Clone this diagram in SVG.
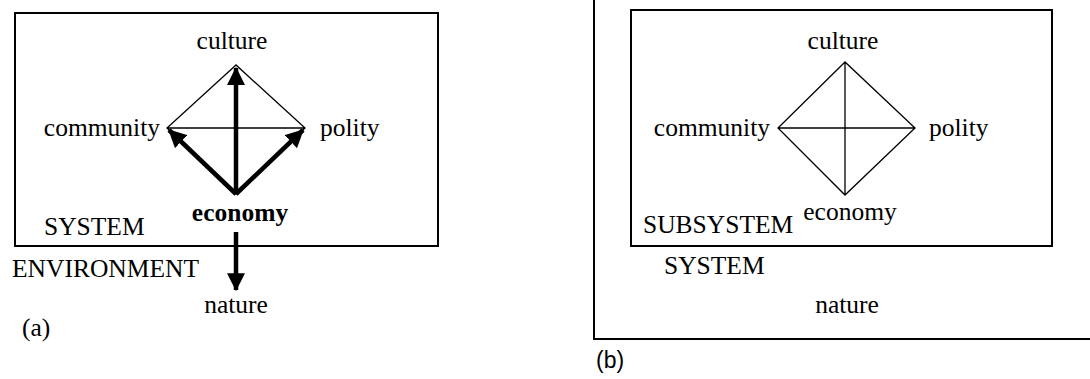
<svg xmlns="http://www.w3.org/2000/svg" width="1090" height="379" viewBox="0 0 1090 379">
<style>
  .t { font-family: "Liberation Serif", "Times New Roman", serif; font-size: 25.5px; fill: #000; }
  .b { font-weight: bold; }
  .m { text-anchor: middle; }
  .e { text-anchor: end; }
  .s { font-family: "Liberation Sans", Arial, sans-serif; font-size: 23px; fill: #000; }
  .box { fill: none; stroke: #000; stroke-width: 2; }
  .thin { fill: none; stroke: #000; stroke-width: 1.3; }
  .thick { fill: none; stroke: #000; stroke-width: 4.5; }
</style>
<defs>
  <marker id="ah" markerUnits="userSpaceOnUse" markerWidth="18" markerHeight="18" viewBox="0 0 16 16" refX="15" refY="8" orient="auto">
    <path d="M0,0 L16,8 L0,16 Z" fill="#000"/>
  </marker>
</defs>
<rect width="1090" height="379" fill="#fff"/>

<!-- Panel (a) -->
<g id="system-a">
  <rect class="box" x="15" y="13" width="423" height="233"/>
  <text class="t" x="44" y="235">SYSTEM</text>
</g>
<g id="environment-a">
  <text class="t" x="12" y="277">ENVIRONMENT</text>
</g>
<g id="diamond-a">
  <path class="thin" d="M236,65 L167,128 L236,194 L305,128 Z M167,128 H305"/>
</g>
<g id="culture-a"><text class="t m" x="232" y="49">culture</text></g>
<g id="community-a"><text class="t e" x="160" y="136">community</text></g>
<g id="polity-a"><text class="t" x="320" y="136">polity</text></g>
<g id="economy-a"><text class="t b m" x="240" y="221">economy</text></g>
<g id="nature-a"><text class="t m" x="236" y="313">nature</text></g>
<g id="label-a"><text class="t" x="22" y="336">(a)</text></g>
<g id="connectors-a">
  <line class="thick" x1="236" y1="194" x2="236" y2="68" marker-end="url(#ah)"/>
  <line class="thick" x1="236" y1="194" x2="169" y2="130" marker-end="url(#ah)"/>
  <line class="thick" x1="236" y1="194" x2="303" y2="130" marker-end="url(#ah)"/>
  <line class="thick" x1="236" y1="232" x2="236" y2="290" marker-end="url(#ah)"/>
</g>

<!-- Panel (b) -->
<g id="system-b">
  <path class="box" d="M594,0 V339 H1090"/>
  <text class="t" x="664" y="274">SYSTEM</text>
</g>
<g id="subsystem-b">
  <rect class="box" x="631" y="10" width="421" height="236"/>
  <text class="t" x="643" y="233">SUBSYSTEM</text>
</g>
<g id="diamond-b">
  <path class="thin" d="M845,62 L778,128 L845,195 L915,128 Z M778,128 H915 M845,62 V195"/>
</g>
<g id="culture-b"><text class="t m" x="843" y="49">culture</text></g>
<g id="community-b"><text class="t e" x="770" y="136">community</text></g>
<g id="polity-b"><text class="t" x="929" y="136">polity</text></g>
<g id="economy-b"><text class="t m" x="850" y="220">economy</text></g>
<g id="nature-b"><text class="t m" x="847" y="313">nature</text></g>
<g id="label-b"><text class="s" x="596" y="368">(b)</text></g>
</svg>
